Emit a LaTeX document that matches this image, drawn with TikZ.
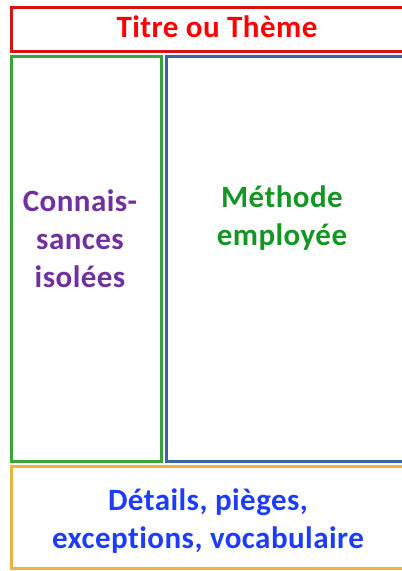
\documentclass[tikz,border=0pt]{standalone}
\usepackage{fontspec}
\setmainfont{Carlito}[Ligatures=NoCommon, LetterSpace=1.5]
\usepackage{tikz}
\usetikzlibrary{positioning, calc}
\definecolor{rougecadre}{RGB}{215,20,20}
\definecolor{vertcadre}{RGB}{55,165,55}
\definecolor{bleucadre}{RGB}{60,100,165}
\definecolor{orangecadre}{RGB}{240,180,60}
\definecolor{violet}{RGB}{112,48,160}
\definecolor{vert}{RGB}{20,150,35}
\definecolor{bleu}{RGB}{30,60,255}
\tikzset{
    cadre/.style = {draw=#1, line width=3pt, rectangle, inner sep=0pt, outer sep=0pt, anchor=north west},
    texte/.style = {font=\fontsize{31}{38}\selectfont\bfseries, text=#1, align=center, inner sep=0pt, anchor=base}
}

\begin{document}
\begin{tikzpicture}[x=1pt, y=-1pt]
    \clip (0,0) rectangle (402,571);
    % Cadres
    \node [cadre=rougecadre, minimum width=420pt, minimum height=44pt] (titre) at (11,7.5) {};
    \node [cadre=vertcadre, minimum width=150pt, minimum height=405pt] (connaissances) at (11.5,56) {};
    \node [cadre=bleucadre, minimum width=250pt, minimum height=405pt] (methode) at (166,56) {};
    \node [cadre=orangecadre, minimum width=420pt, minimum height=102pt] (details) at (11,466) {};
    % Textes
    \node [texte=red] (titreTxt) at (217,37) {Titre ou Thème};
    \node [texte=violet] (connaissancesTxt) at (80,287) {Connais-\\sances\\isolées};
    \node [texte=vert] (methodeTxt) at (282,245) {Méthode\\employée};
    \node [texte=bleu] (detailsTxt) at (208,548) {Détails, pièges,\\exceptions, vocabulaire};
\end{tikzpicture}
\end{document}
